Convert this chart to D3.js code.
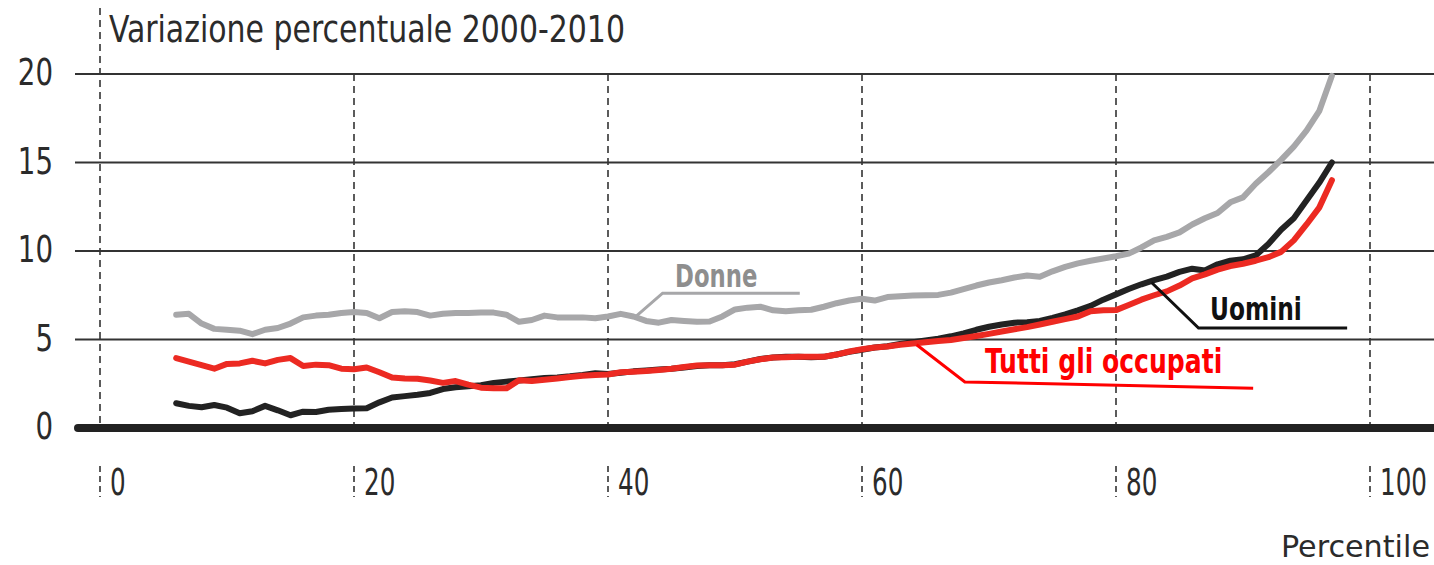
<!DOCTYPE html>
<html><head><meta charset="utf-8">
<script src="https://cdn.jsdelivr.net/npm/d3@7"></script>
<style>
html,body{margin:0;padding:0;background:#fff;}
svg text{font-family:"DejaVu Sans Condensed","DejaVu Sans",sans-serif;}
</style></head>
<body><svg id="chart" width="1434" height="565"></svg>
<script>
const percentiles = d3.range(6, 98);
const donne = [6.4,6.45,5.9,5.6,5.55,5.5,5.3,5.55,5.65,5.9,6.25,6.35,6.4,6.5,6.55,6.5,6.2,6.55,6.6,6.55,6.35,6.45,6.5,6.5,6.52,6.52,6.4,6.0,6.1,6.35,6.25,6.25,6.25,6.2,6.3,6.45,6.3,6.05,5.95,6.1,6.05,6.0,6.02,6.3,6.7,6.8,6.85,6.65,6.6,6.65,6.68,6.85,7.05,7.2,7.3,7.2,7.4,7.45,7.48,7.5,7.52,7.65,7.85,8.05,8.22,8.35,8.5,8.62,8.55,8.85,9.1,9.3,9.45,9.58,9.7,9.85,10.2,10.6,10.8,11.05,11.5,11.85,12.15,12.75,13.03,13.8,14.45,15.15,15.9,16.8,17.9,19.9];
const uomini = [1.4,1.25,1.17,1.3,1.15,0.83,0.95,1.25,1.0,0.72,0.92,0.9,1.03,1.07,1.1,1.12,1.45,1.72,1.8,1.88,1.98,2.2,2.3,2.36,2.42,2.55,2.62,2.68,2.75,2.82,2.86,2.92,3.0,3.1,3.05,3.12,3.2,3.25,3.3,3.35,3.42,3.5,3.55,3.55,3.6,3.75,3.9,3.98,4.02,4.03,4.0,4.02,4.15,4.3,4.42,4.55,4.62,4.75,4.85,4.95,5.05,5.18,5.35,5.55,5.72,5.85,5.95,5.98,6.05,6.22,6.42,6.65,6.9,7.25,7.55,7.85,8.12,8.35,8.55,8.82,9.0,8.9,9.25,9.45,9.53,9.75,10.4,11.2,11.85,12.85,13.85,15.0];
const tutti = [3.95,3.75,3.55,3.35,3.62,3.65,3.8,3.65,3.85,3.95,3.5,3.58,3.55,3.35,3.32,3.42,3.15,2.85,2.8,2.78,2.68,2.55,2.65,2.45,2.28,2.25,2.24,2.7,2.65,2.72,2.8,2.88,2.95,3.0,3.02,3.15,3.18,3.22,3.28,3.35,3.45,3.53,3.55,3.55,3.58,3.75,3.88,3.98,4.0,4.03,4.02,4.03,4.15,4.32,4.45,4.55,4.6,4.7,4.78,4.85,4.92,4.97,5.08,5.2,5.32,5.45,5.58,5.7,5.85,6.0,6.15,6.3,6.6,6.65,6.66,6.95,7.25,7.5,7.72,8.05,8.45,8.68,8.95,9.15,9.28,9.45,9.65,9.95,10.6,11.5,12.45,14.0];
const xTicks = [0,20,40,60,80,100];
const yTicks = [0,5,10,15,20];
const title = "Variazione percentuale 2000-2010";
const xTitle = "Percentile";
const seriesNames = ["Donne","Uomini","Tutti gli occupati"];

const svg = d3.select("#chart");
const x = d3.scaleLinear().domain([0,100]).range([100,1370]);
const y = d3.scaleLinear().domain([0,20]).range([428,74]);
const gridColor = "#333";
const fontColor = "#2b2b2b";

// narrow text helper (condensed look of the original typeface)
function ntext(parent, tx, ty, str, size, sx, opts={}){
  const g = parent.append("g").attr("transform",`translate(${tx},${ty}) scale(${sx},1)`);
  const t = g.append("text").attr("x",0).attr("y",0).attr("font-size",size)
    .attr("fill",opts.fill||fontColor).attr("text-anchor",opts.anchor||"start").text(str);
  if(opts.weight) t.attr("font-weight",opts.weight);
  return t;
}

// vertical dashed grid
svg.append("g").selectAll("line").data(xTicks).join("line")
  .attr("x1", d=>x(d)).attr("x2", d=>x(d))
  .attr("y1", d=> d===0 ? 8 : y(20)).attr("y2", y(0))
  .attr("stroke", gridColor).attr("stroke-width",1.6).attr("stroke-dasharray","7,5");

// horizontal grid
svg.append("g").selectAll("line").data(yTicks.filter(d=>d>0)).join("line")
  .attr("x1", 75).attr("x2", 1434).attr("y1", d=>y(d)).attr("y2", d=>y(d))
  .attr("stroke", gridColor).attr("stroke-width",2);

// y labels
const yl = svg.append("g");
yTicks.forEach(d=>ntext(yl, 53, y(d)+11, d, 37, 0.83, {anchor:"end"}));

// x ticks + labels
const xt = svg.append("g");
xTicks.forEach(d=>{
  xt.append("line").attr("x1",x(d)).attr("x2",x(d)).attr("y1",466).attr("y2",497)
    .attr("stroke",gridColor).attr("stroke-width",1.6).attr("stroke-dasharray","6,4");
  ntext(xt, x(d)+10, 495, d, 37, 0.74);
});

// title and axis title
ntext(svg, 109, 42, title, 37, 0.9);
ntext(svg, 1430, 557, xTitle, 30, 1.12, {anchor:"end"});

// lines
const line = d3.line().x((d,i)=>x(percentiles[i])).y(d=>y(d)).curve(d3.curveLinear);
const series = [
  {name:"Donne", values:donne, color:"#a7a7a9"},
  {name:"Uomini", values:uomini, color:"#222"},
  {name:"Tutti gli occupati", values:tutti, color:"#ec2a22"}
];
svg.append("g").selectAll("path").data(series).join("path")
  .attr("d", d=>line(d.values)).attr("fill","none").attr("stroke",d=>d.color)
  .attr("stroke-width",6).attr("stroke-linejoin","round").attr("stroke-linecap","round");

// zero line (thick)
svg.append("line").attr("x1",78).attr("x2",1434).attr("y1",y(0)).attr("y2",y(0))
  .attr("stroke","#222").attr("stroke-width",8).attr("stroke-linecap","round");

// annotations
const ann = svg.append("g");
function leader(points, color){
  ann.append("polyline").attr("points", points.map(p=>p.join(",")).join(" "))
    .attr("fill","none").attr("stroke",color).attr("stroke-width",3);
}
// Donne
leader([[x(42.2), y(6.3)],[x(44.3), y(7.62)],[x(55.1), y(7.62)]], "#a7a7a9");
ntext(ann, 675, 287, seriesNames[0], 32, 0.79, {weight:"bold", fill:"#8e8e8e"});
// Uomini
leader([[x(82.8), y(8.22)],[x(86.5), y(5.65)],[x(98.2), y(5.65)]], "#111");
ntext(ann, 1210, 320, seriesNames[1], 32, 0.81, {weight:"bold", fill:"#111"});
// Tutti
leader([[x(64.3), y(4.7)],[x(68.1), y(2.6)],[x(90.8), y(2.25)]], "#ff0000");
ntext(ann, 985, 373, seriesNames[2], 34, 0.82, {weight:"bold", fill:"#ff0000"});
</script></body></html>
